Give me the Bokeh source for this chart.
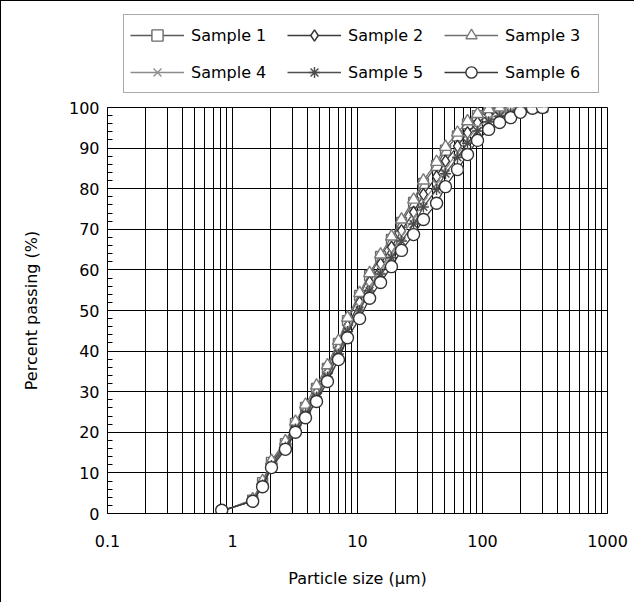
from bokeh.plotting import figure
from bokeh.layouts import column
from bokeh.models import Range1d, FixedTicker, CustomJSTickFormatter, Legend, LegendItem
from bokeh.embed import file_html
from bokeh.resources import INLINE

# Particle size bins (micrometres), shared by all samples
size_um = [0.82, 1.45, 1.74, 2.05, 2.65, 3.19, 3.84, 4.70, 5.75, 7.04, 8.32, 10.4,
           12.5, 15.3, 18.7, 22.5, 28.1, 33.7, 42.9, 50.6, 63.1, 75.9, 91.2, 112,
           137, 168, 201, 251, 302]

# Cumulative percent passing
sample1 = [0.5, 3.3, 7.6, 12.6, 17.2, 22.2, 26.1, 30.8, 35.7, 41.9, 47.5, 53.7,
           58.6, 63.3, 67.5, 71.7, 76.6, 81.3, 85.7, 89.5, 93.0, 96.0, 98.0, 99.5,
           100, 100, 100, 100, 100]
sample2 = [0.6, 3.2, 7.3, 12.2, 16.8, 21.5, 25.4, 29.8, 34.7, 40.7, 46.2, 52.0,
           57.0, 61.5, 65.6, 69.7, 74.2, 78.6, 83.0, 86.8, 90.5, 93.8, 96.3, 98.2,
           99.2, 99.7, 100, 100, 100]
sample3 = [0.5, 3.5, 8.0, 13.0, 17.8, 22.6, 26.8, 31.5, 36.5, 42.5, 48.2, 54.3,
           59.2, 63.8, 68.2, 72.4, 77.3, 82.0, 86.6, 90.3, 93.8, 96.6, 98.4, 99.6,
           100, 100, 100, 100, 100]
sample4 = [0.6, 3.1, 7.1, 12.0, 16.5, 21.1, 24.9, 29.2, 34.1, 39.9, 45.4, 50.9,
           55.8, 60.1, 64.2, 68.3, 72.6, 76.9, 81.2, 85.0, 88.8, 92.3, 95.0, 97.2,
           98.4, 99.1, 99.6, 99.9, 100]
sample5 = [0.6, 3.1, 7.0, 11.8, 16.3, 20.8, 24.5, 28.7, 33.6, 39.3, 44.8, 50.0,
           54.8, 59.0, 63.0, 67.1, 71.3, 75.5, 79.8, 83.7, 87.7, 91.2, 94.2, 96.5,
           97.8, 98.6, 99.4, 99.9, 100]
sample6 = [0.8, 3.0, 6.6, 11.3, 15.8, 20.0, 23.6, 27.6, 32.5, 37.9, 43.3, 48.0,
           53.0, 56.9, 60.8, 64.8, 68.7, 72.4, 76.4, 80.5, 84.7, 88.4, 91.9, 94.6,
           96.3, 97.5, 98.8, 99.8, 100]

series_names = ["Sample 1", "Sample 2", "Sample 3", "Sample 4", "Sample 5", "Sample 6"]
series_values = [sample1, sample2, sample3, sample4, sample5, sample6]

x_ticks = [0.1, 1, 10, 100, 1000]
y_ticks = [0, 10, 20, 30, 40, 50, 60, 70, 80, 90, 100]

markers = ["square", "diamond", "triangle", "x", "asterisk", "circle"]
marker_sizes = [10, 12, 12, 11, 11, 12]
line_colors = ["#5a5a5a", "#3c3c3c", "#707070", "#8c8c8c", "#505050", "#3a3a3a"]
marker_colors = ["#6a6a6a", "#303030", "#7a7a7a", "#909090", "#4a4a4a", "#333333"]

FONT = "DejaVu Sans"
FS = "16px"
W = 633
H_LEG = 95
H_MAIN = 506

# ---------------- legend strip (its own small figure) ----------------
# its ranges exclude all data, so only the legend swatches are visible
pl = figure(width=W, height=H_LEG, x_range=Range1d(-2, -1), y_range=Range1d(-2, -1),
            output_backend="svg", toolbar_location=None,
            x_axis_location=None, y_axis_location=None, min_border=0)
pl.outline_line_color = None
pl.background_fill_color = "white"
pl.border_fill_color = "white"
pl.xgrid.visible = False
pl.ygrid.visible = False

# ---------------- main chart ----------------
p = figure(width=W, height=H_MAIN, x_axis_type="log",
           x_range=Range1d(0.1, 1000), y_range=Range1d(0, 100),
           output_backend="svg", toolbar_location=None,
           min_border_left=106, min_border_right=27,
           min_border_top=11, min_border_bottom=89)

p.background_fill_color = "white"
p.border_fill_color = "white"
p.outline_line_color = "black"
p.outline_line_width = 1

p.xaxis.ticker = FixedTicker(ticks=x_ticks,
                             minor_ticks=[m * 10.0 ** e for e in range(-1, 3) for m in range(2, 10)])
p.xaxis.formatter = CustomJSTickFormatter(code="return tick.toString();")
p.yaxis.ticker = FixedTicker(ticks=y_ticks, minor_ticks=list(range(0, 101, 2)))

for ax in (p.xaxis[0], p.yaxis[0]):
    ax.axis_line_color = "black"
    ax.major_tick_in = 0
    ax.major_tick_out = 0
    ax.major_label_text_font = FONT
    ax.major_label_text_font_size = FS
    ax.major_label_text_color = "black"
    ax.axis_label_text_font = FONT
    ax.axis_label_text_font_size = FS
    ax.axis_label_text_font_style = "normal"
    ax.axis_label_text_color = "black"

p.xaxis.minor_tick_in = 0
p.xaxis.minor_tick_out = 0
p.yaxis.minor_tick_in = 5
p.yaxis.minor_tick_out = 0
p.yaxis.minor_tick_line_color = "black"
p.xaxis.major_label_standoff = 21
p.yaxis.major_label_standoff = 8
p.xaxis.axis_label = "Particle size (\u03bcm)"
p.yaxis.axis_label = "Percent passing (%)"
p.xaxis.axis_label_standoff = 19
p.yaxis.axis_label_standoff = 25

p.xgrid.grid_line_color = "black"
p.xgrid.grid_line_alpha = 1
p.xgrid.minor_grid_line_color = "black"
p.xgrid.minor_grid_line_alpha = 1
p.ygrid.grid_line_color = "black"
p.ygrid.grid_line_alpha = 1

items = []
for name, vals, mk, ms, lc, mc in zip(series_names, series_values, markers,
                                      marker_sizes, line_colors, marker_colors):
    p.line(size_um, vals, line_color=lc, line_width=1.3)
    p.scatter(size_um, vals, marker=mk, size=ms, fill_color="white",
              line_color=mc, line_width=1.4)
    # legend swatches in the strip (data falls outside the strip's ranges)
    l_line = pl.line(size_um, vals, line_color=lc, line_width=1.3)
    l_pts = pl.scatter(size_um, vals, marker=mk, size=ms, fill_color="white",
                       line_color=mc, line_width=1.4)
    items.append(LegendItem(label=name, renderers=[l_line, l_pts]))

legend = Legend(items=items, orientation="horizontal", ncols=3,
                location=(16, 3), margin=0,
                glyph_width=54, glyph_height=28, label_standoff=7,
                label_width=87, spacing=9, padding=6,
                label_text_font=FONT, label_text_font_size=FS,
                label_text_color="black",
                border_line_color="#555555", border_line_width=1,
                background_fill_color="white", background_fill_alpha=1)
pl.add_layout(legend, "center")

layout = column(pl, p, spacing=0,
                styles={"border-top": "1px solid #000", "border-left": "1px solid #000"})
open("out.html", "w").write(file_html(layout, INLINE))
